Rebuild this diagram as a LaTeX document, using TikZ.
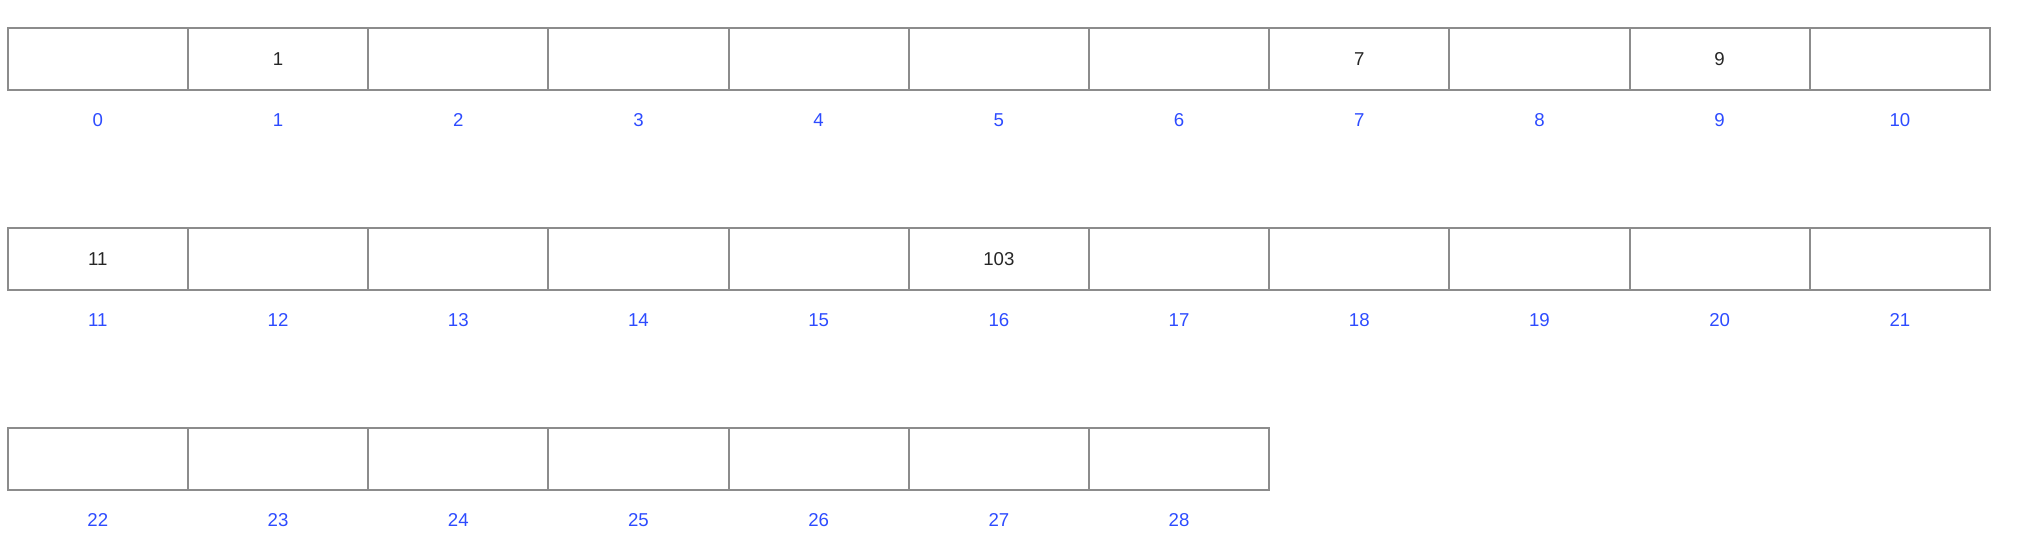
\documentclass[tikz,border=0pt]{standalone}
\usepackage{fontspec}
\setmainfont{Liberation Sans}
\definecolor{cellline}{RGB}{140,140,140}
\definecolor{idxblue}{RGB}{45,75,255}
\tikzset{
  cell/.style={draw=cellline, line width=0.6pt, minimum width=1.802cm, minimum height=0.62cm, inner sep=0pt, anchor=north west},
  idx/.style={text=idxblue, font=\fontsize{5.3}{6}\selectfont, text height=3.8pt, text depth=0pt},
  val/.style={text=black!85, font=\fontsize{5.3}{6}\selectfont, text height=3.8pt, text depth=0pt}
}
\begin{document}
\begin{tikzpicture}
    \useasboundingbox (0,0) rectangle (20.22,-5.48);
    % Cases du tableau (11 par ligne)
    \foreach \i in {0,...,28} {
        \pgfmathtruncatemacro{\row}{\i/11}
        \pgfmathtruncatemacro{\col}{\i-11*\row}
        \node[cell] (cell\i) at (0.067+1.802*\col, -0.267-2*\row) {};
        \node[idx] (idx\i) at ([yshift=-0.61cm]cell\i.center) {\i};
    }
    % Valeurs
    \foreach \i/\v in {1/1, 7/7, 9/9, 11/11, 16/103} {
        \node[val] (val\i) at (cell\i.center) {\v};
    }
\end{tikzpicture}
\end{document}
